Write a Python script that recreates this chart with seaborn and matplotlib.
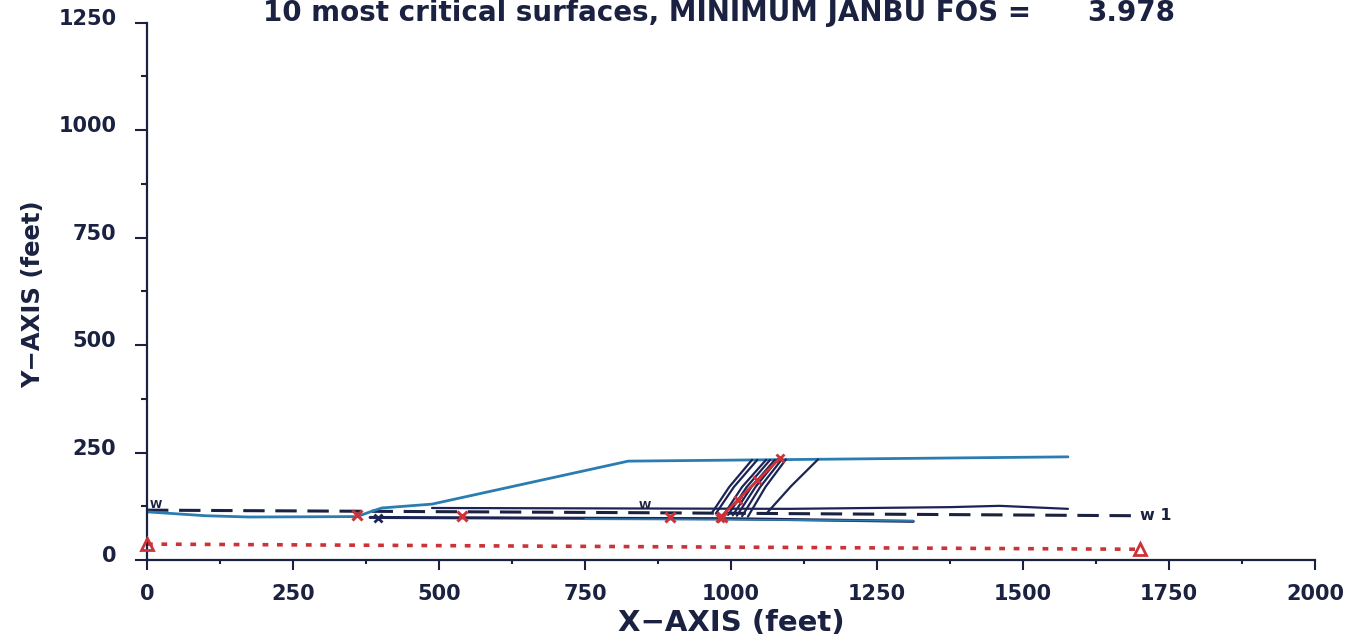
import numpy as np
import pandas as pd
import seaborn as sns
import matplotlib
matplotlib.use("Agg")
import matplotlib.pyplot as plt
from matplotlib.ticker import MultipleLocator
import matplotlib.transforms as mtransforms

# ---- profile geometry (feet) ----
ground_x = [0, 100, 175, 360, 382, 402, 488, 824, 1577]
ground_y = [112, 103, 100, 101, 112, 121, 130, 230, 240]

upper_layer_x = [488, 800, 1100, 1375, 1460, 1577]
upper_layer_y = [121, 120, 119, 123, 126, 119]

lower_layer_x = [382, 776, 1000, 1312]
lower_layer_y = [99, 97, 96, 90]

base_x = [750, 1000, 1312]
base_y = [95, 94, 91]

water_x = [0, 849, 1692]
water_y = [116, 110, 103]

piezo_x = [0, 1700]
piezo_y = [37, 25]

# trial failure surfaces: (x list, y list)
surfaces_x = [
    [967, 997, 1036],
    [974, 1005, 1045],
    [988, 1019, 1060],
    [995, 1027, 1067],
    [1003, 1035, 1075],
    [1010, 1042, 1080],
    [1019, 1050, 1087],
    [1029, 1059, 1094],
    [1062, 1103, 1149],
]
surfaces_y = [
    [109, 170, 233],
    [108, 170, 233],
    [106, 170, 233],
    [105, 170, 233],
    [104, 170, 233],
    [103, 170, 234],
    [102, 170, 234],
    [101, 170, 234],
    [110, 172, 234],
]
critical_x = [981, 1012, 1045, 1084]
critical_y = [98, 140, 185, 237]

limit_x = [360, 539, 896, 985]
limit_y = [104, 103, 100, 99]

min_fos = 3.978

x_ticks = [0, 250, 500, 750, 1000, 1250, 1500, 1750, 2000]
y_ticks = [0, 250, 500, 750, 1000, 1250]

NAVY = "#1b2140"
TEAL = "#2a7db0"
LINE_NAVY = "#1c2456"
RED = "#cc3338"

sns.set_theme(style="white")
plt.rcParams["font.family"] = ["DejaVu Sans"]
plt.rcParams["font.weight"] = "bold"

fig = plt.figure(figsize=(13.68, 6.43), dpi=100)
ax = fig.add_axes([147 / 1368, 1 - 560 / 643, (1315 - 147) / 1368, (560 - 22.7) / 643])


def draw(xs, ys, **kw):
    df = pd.DataFrame({"x": xs, "y": ys})
    sns.lineplot(data=df, x="x", y="y", sort=False, estimator=None, ax=ax, **kw)


draw(piezo_x, piezo_y, color=RED, lw=2.6, linestyle=(0, (1.6, 2.4)))
ax.plot(piezo_x, piezo_y, linestyle="none", marker="^", ms=8, mfc="none",
        mec=RED, mew=2, clip_on=False, zorder=5)

draw(water_x, water_y, color=NAVY, lw=2.2, linestyle=(0, (7, 3.5)))

draw(lower_layer_x, lower_layer_y, color=LINE_NAVY, lw=2.2)
draw(base_x, base_y, color=TEAL, lw=1.3)
draw(upper_layer_x, upper_layer_y, color=LINE_NAVY, lw=1.6)
draw(ground_x, ground_y, color=TEAL, lw=2.0)

for sx, sy in zip(surfaces_x, surfaces_y):
    draw(sx, sy, color=LINE_NAVY, lw=1.6)
draw(critical_x, critical_y, color=RED, lw=2.0)
ax.plot(critical_x, critical_y, linestyle="none", marker="x", ms=6, mec=RED, mew=2)

ax.plot(limit_x, limit_y, linestyle="none", marker="x", ms=7, mec=RED, mew=2.2, zorder=6)
ax.plot([395], [97], linestyle="none", marker="x", ms=6, mec=LINE_NAVY, mew=2, zorder=6)

ax.text(5, 117, "W", fontsize=8, color=NAVY, fontweight="bold", va="bottom")
ax.text(842, 113, "W", fontsize=8, color=NAVY, fontweight="bold", va="bottom")
ax.text(1700, 103, "w 1", fontsize=11.5, color=NAVY, fontweight="bold", va="center")

ax.set_xlim(0, 2000)
ax.set_ylim(0, 1250)
ax.set_xticks(x_ticks)
ax.set_yticks(y_ticks)
ax.set_xticklabels([str(v) for v in x_ticks])
ax.set_yticklabels([str(v) for v in y_ticks])
ax.xaxis.set_minor_locator(MultipleLocator(125))
ax.yaxis.set_minor_locator(MultipleLocator(125))

for side in ("top", "right"):
    ax.spines[side].set_visible(False)
for side in ("left", "bottom"):
    ax.spines[side].set_color(NAVY)
    ax.spines[side].set_linewidth(1.6)

ax.tick_params(axis="both", which="both", direction="out", color=NAVY,
               width=1.5, labelcolor=NAVY, labelsize=15)
ax.tick_params(axis="y", which="major", length=9, pad=13, left=True)
ax.tick_params(axis="y", which="minor", length=4, left=True)
ax.tick_params(axis="x", which="major", length=7, pad=10, bottom=True)
ax.tick_params(axis="x", which="minor", length=3, bottom=True)
for lab in ax.get_xticklabels() + ax.get_yticklabels():
    lab.set_fontweight("bold")

shift = mtransforms.ScaledTranslation(0, 6 / 100, fig.dpi_scale_trans)
for lab in ax.get_yticklabels():
    lab.set_transform(lab.get_transform() + shift)

ax.set_xlabel("X\u2212AXIS (feet)", fontsize=21, color=NAVY, fontweight="bold", labelpad=4)
ax.set_ylabel("Y\u2212AXIS (feet)", fontsize=17.5, color=NAVY, fontweight="bold")
ax.yaxis.set_label_coords(-0.087, 0.495)
ax.grid(False)

fig.text(263 / 1368, 1 - 21 / 643, "10 most critical surfaces, MINIMUM JANBU FOS =",
         fontsize=20, color=NAVY, fontweight="bold", ha="left", va="baseline")
fig.text(1175 / 1368, 1 - 21 / 643, f"{min_fos:.3f}",
         fontsize=20, color=NAVY, fontweight="bold", ha="right", va="baseline")

fig.savefig("out.png", dpi=100, facecolor="white")
